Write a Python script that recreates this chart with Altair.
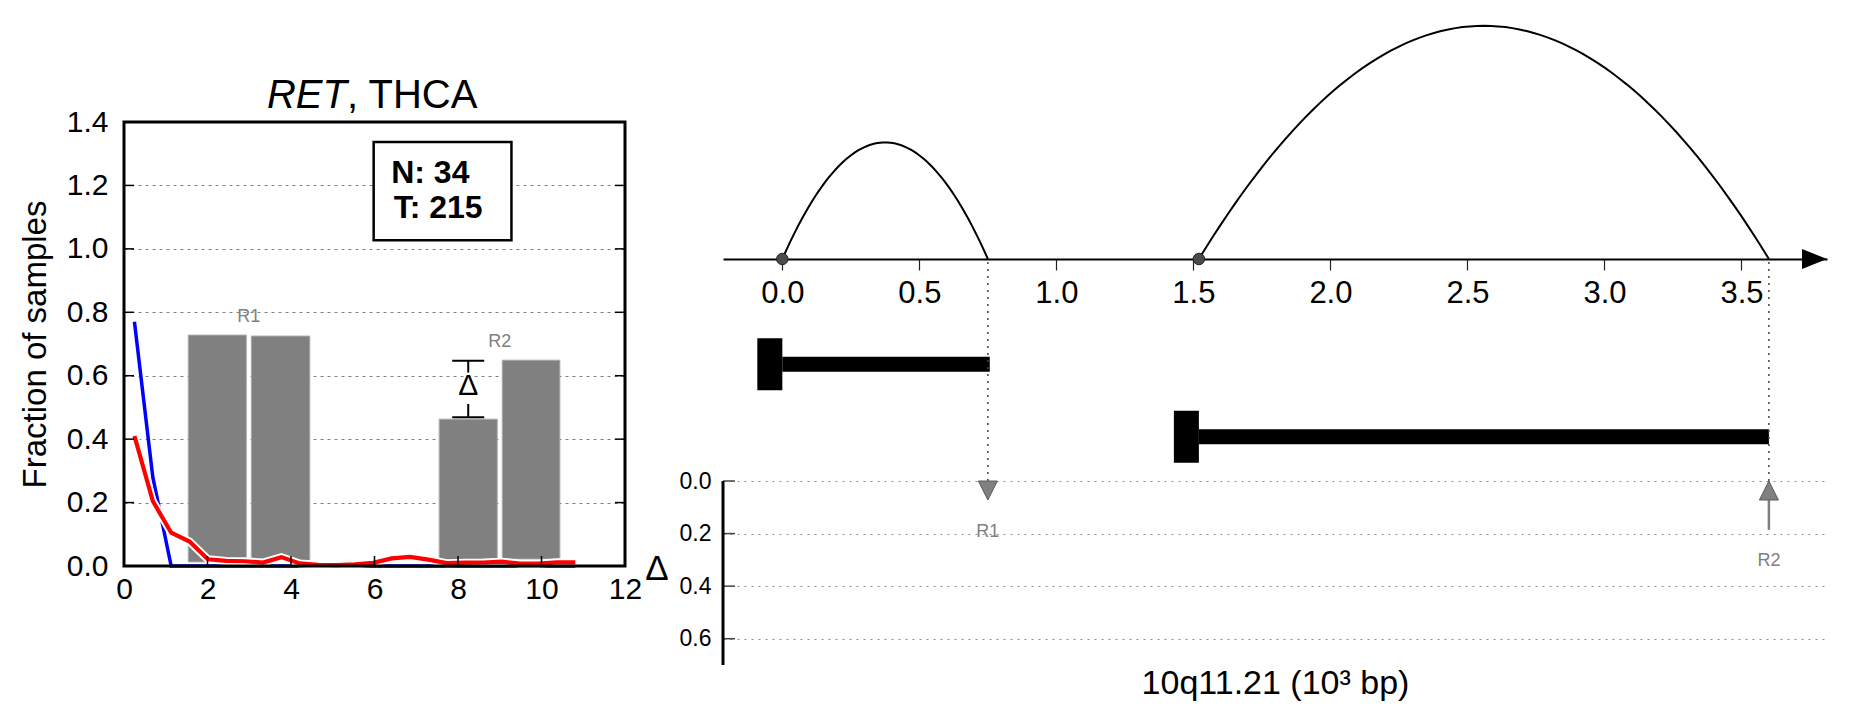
import altair as alt
import numpy as np
import pandas as pd

FONT = "Liberation Sans"

# ---------------- left panel: fraction of samples ----------------
BIN_X = [0.25, 0.69, 1.13, 1.57, 2.01, 2.45, 2.89, 3.33, 3.77, 4.21, 4.65, 5.09,
         5.53, 5.97, 6.41, 6.85, 7.29, 7.73, 8.17, 8.61, 9.05, 9.49, 9.93, 10.37, 10.81]
NORMAL_FRACTION = [0.77, 0.28, 0.0, 0.0, 0.0, 0.0, 0.0, 0.0, 0.0, 0.0, 0.0, 0.0,
                   0.0, 0.0, 0.0, 0.0, 0.0, 0.0, 0.0, 0.0, 0.0, 0.0, 0.0, 0.0, 0.0]
TUMOR_FRACTION = [0.41, 0.205, 0.105, 0.077, 0.021, 0.016, 0.015, 0.011, 0.028, 0.008,
                  0.004, 0.003, 0.005, 0.010, 0.024, 0.029, 0.020, 0.009, 0.0105, 0.011,
                  0.0136, 0.0074, 0.0074, 0.0115, 0.0115]
BAR_X0 = [1.54, 3.05, 7.55, 9.06]
BAR_X1 = [2.93, 4.45, 8.94, 10.44]
BAR_TOP = [0.728, 0.725, 0.463, 0.649]
BAR_BOTTOM = [0.013, 0.017, 0.018, 0.022]
REGIONS = ["R1", "R2"]
N_NORMAL, N_TUMOR = 34, 215
LEFT_X_TICKS = [0, 2, 4, 6, 8, 10, 12]
LEFT_Y_TICKS = [0.0, 0.2, 0.4, 0.6, 0.8, 1.0, 1.2, 1.4]
GENE_LABEL, COHORT_LABEL = "RET", ", THCA"

# ---------------- right panel: locus ----------------
POS_TICKS = [0.0, 0.5, 1.0, 1.5, 2.0, 2.5, 3.0, 3.5]
ARC_START = [0.0, 1.52]
ARC_END = [0.75, 3.6]
ARC_HEIGHT = [0.5, 1.0]
FEATURE_ID = ["f1", "f2"]
FEATURE_START = [0.0, 1.52]
FEATURE_END = [0.757, 3.6]
REGION_POS = [0.75, 3.6]
DELTA_TICKS = [0.0, 0.2, 0.4, 0.6]
DELTA_AXIS_END = 0.7
LOCUS_TITLE = "10q11.21 (10³ bp)"

# ================= left chart =================
W_L, H_L, TOP_L = 501, 547, 103
PXX = W_L / (LEFT_X_TICKS[-1] - LEFT_X_TICKS[0])
PXY = (H_L - TOP_L) / (LEFT_Y_TICKS[-1] - LEFT_Y_TICKS[0])
XL = alt.Scale(domain=[LEFT_X_TICKS[0], LEFT_X_TICKS[-1]], nice=False, zero=False)
YL = alt.Scale(domain=[LEFT_Y_TICKS[0], LEFT_Y_TICKS[-1]], range=[H_L, TOP_L], nice=False, zero=False)
AX_XL = alt.Axis(values=LEFT_X_TICKS, ticks=False, domain=False, grid=False, labelFontSize=30,
                 labelPadding=8, labelColor="black", labelFlush=False, labelOverlap=False)
AX_YL = alt.Axis(values=LEFT_Y_TICKS, format=".1f", ticks=False, domain=False, grid=True,
                 gridDash=[3, 4], gridColor="#808080", gridWidth=1, labelFontSize=30,
                 labelPadding=16, labelColor="black", labelOverlap=False, titleFontSize=33,
                 titleFontWeight="normal", titleColor="black", titlePadding=14)


def xl(f):
    return alt.X(f, type="quantitative", scale=XL, axis=AX_XL, title=None)


def yl(f):
    return alt.Y(f, type="quantitative", scale=YL, axis=AX_YL, title="Fraction of samples")


bars_df = pd.DataFrame({"x0": BAR_X0, "x1": BAR_X1, "top": BAR_TOP, "bottom": BAR_BOTTOM})
normal_df = pd.DataFrame({"x": BIN_X, "frac": NORMAL_FRACTION})
tumor_df = pd.DataFrame({"x": BIN_X, "frac": TUMOR_FRACTION})

bars = alt.Chart(bars_df).mark_rect(fill="#808080", stroke="#a8a8a8", strokeWidth=1).encode(
    x=xl("x0"), x2="x1:Q", y=yl("top"), y2="bottom:Q")
blue = alt.Chart(normal_df).mark_line(color="#0000ff", strokeWidth=3.5).encode(x=xl("x"), y=yl("frac"))
red_halo = alt.Chart(tumor_df).mark_line(color="white", strokeWidth=8).encode(x=xl("x"), y=yl("frac"))
red = alt.Chart(tumor_df).mark_line(color="#ff0000", strokeWidth=4.2).encode(x=xl("x"), y=yl("frac"))

# delta annotation between the two R2 bars
cx = (BAR_X0[2] + BAR_X1[2]) / 2
lo, hi = BAR_TOP[2] + 0.006, BAR_TOP[3] - 0.002
mid = (lo + hi) / 2
caps_df = pd.DataFrame({"x": [cx, cx], "y": [lo, hi]})
stems_df = pd.DataFrame({"x": [cx, cx], "y": [hi, mid - 0.047], "y2": [mid + 0.052, lo]})
caps = alt.Chart(caps_df).mark_tick(orient="horizontal", size=32, thickness=2, color="black",
                                    opacity=1).encode(x=xl("x"), y=yl("y"))
stems = alt.Chart(stems_df).mark_rule(color="black", strokeWidth=2).encode(x=xl("x"), y=yl("y"), y2="y2:Q")
delta_txt = alt.Chart(pd.DataFrame({"x": [cx], "y": [mid - 0.019], "t": ["Δ"]})).mark_text(
    fontSize=30, baseline="alphabetic", align="center", color="black").encode(x=xl("x"), y=yl("y"), text="t:N")

rl_df = pd.DataFrame({
    "x": [(BAR_X1[0] + BAR_X0[1]) / 2, (BAR_X1[2] + BAR_X0[3]) / 2],
    "y": [max(BAR_TOP[0:2]) + 0.058, max(BAR_TOP[2:4]) + 0.058],
    "t": REGIONS})
rlabels = alt.Chart(rl_df).mark_text(fontSize=18, color="#808080", baseline="middle").encode(
    x=xl("x"), y=yl("y"), text="t:N")

box = alt.Chart(pd.DataFrame({"x0": [5.98], "x1": [9.28], "y0": [1.027], "y1": [1.337]})).mark_rect(
    fill="white", stroke="black", strokeWidth=2.5).encode(x=xl("x0"), x2="x1:Q", y=yl("y0"), y2="y1:Q")
box_txt = alt.Chart(pd.DataFrame({"x": [6.40, 6.46], "y": [1.209, 1.098],
                                  "t": [f"N: {N_NORMAL}", f"T: {N_TUMOR}"]})).mark_text(
    fontSize=32, fontWeight="bold", align="left", baseline="alphabetic", color="black").encode(
    x=xl("x"), y=yl("y"), text="t:N")

frame = alt.Chart(pd.DataFrame({"x0": [LEFT_X_TICKS[0]], "x1": [LEFT_X_TICKS[-1]],
                                "y0": [LEFT_Y_TICKS[0]], "y1": [LEFT_Y_TICKS[-1]]})).mark_rect(
    fillOpacity=0, stroke="black", strokeWidth=3).encode(x=xl("x0"), x2="x1:Q", y=yl("y0"), y2="y1:Q")

TL = 10  # inward tick length in px
ytk = LEFT_Y_TICKS[1:-1]
yticks_df = pd.DataFrame({
    "x0": [LEFT_X_TICKS[0]] * len(ytk) + [LEFT_X_TICKS[-1] - TL / PXX] * len(ytk),
    "x1": [LEFT_X_TICKS[0] + TL / PXX] * len(ytk) + [LEFT_X_TICKS[-1]] * len(ytk),
    "y": ytk + ytk})
yticks = alt.Chart(yticks_df).mark_rule(color="black", strokeWidth=1.5).encode(
    x=xl("x0"), x2="x1:Q", y=yl("y"))
xtk = LEFT_X_TICKS[1:-1]
xticks_df = pd.DataFrame({"x": xtk, "y0": [0.0] * len(xtk), "y1": [TL / PXY] * len(xtk)})
xticks = alt.Chart(xticks_df).mark_rule(color="black", strokeWidth=1.5).encode(
    x=xl("x"), y=yl("y0"), y2="y1:Q")

title_y = LEFT_Y_TICKS[-1] + 0.045
t1 = alt.Chart(pd.DataFrame({"x": [5.34], "y": [title_y], "t": [GENE_LABEL]})).mark_text(
    fontSize=40, fontStyle="italic", align="right", baseline="alphabetic", color="black").encode(
    x=xl("x"), y=yl("y"), text="t:N")
t2 = alt.Chart(pd.DataFrame({"x": [5.34], "y": [title_y], "t": [COHORT_LABEL]})).mark_text(
    fontSize=40, align="left", baseline="alphabetic", color="black").encode(
    x=xl("x"), y=yl("y"), text="t:N")

left = alt.layer(bars, blue, red_halo, red, caps, stems, delta_txt, rlabels, box, box_txt,
                 frame, yticks, xticks, t1, t2).properties(width=W_L, height=H_L)

# ================= right chart =================
W_R, H_R = 1104, 646
X_MIN, X_MAX = -0.2165, 3.812
AXIS_PX = 240
XR = alt.Scale(domain=[X_MIN, X_MAX], nice=False, zero=False)
AX_XR = alt.Axis(values=POS_TICKS, format=".1f", orient="bottom", offset=AXIS_PX - H_R,
                 tickSize=11, tickColor="#222222", tickWidth=1.2, domainColor="black", domainWidth=2,
                 labelFontSize=31, labelPadding=8, labelColor="black", labelFlush=False,
                 labelOverlap=False, grid=False, titleFontSize=34, titleFontWeight="normal",
                 titleColor="black", titleY=424, titleBaseline="middle")
ARC_Y = alt.Scale(domain=[0, 1], range=[AXIS_PX, 6.8], nice=False, zero=False)
GENE_Y = alt.Scale(type="point", domain=FEATURE_ID, range=[345.3, 417.8], padding=0)
DY = alt.Scale(domain=[0, DELTA_AXIS_END], range=[462, 646], nice=False, zero=False)
AX_D = alt.Axis(orient="left", values=DELTA_TICKS, format=".1f", ticks=False, domain=False,
                grid=True, gridDash=[2, 5], gridColor="#8c8c8c", gridWidth=1, labelFontSize=23,
                labelPadding=12, labelColor="black", labelOverlap=False, titleAngle=0,
                titleFontSize=35, titleFontWeight="normal", titleColor="black", titleX=-66.5,
                titleY=549.5, titleAlign="center", titleBaseline="middle")


def xr(f):
    return alt.X(f, type="quantitative", scale=XR, axis=AX_XR, title=LOCUS_TITLE)


def dy(f):
    return alt.Y(f, type="quantitative", scale=DY, axis=AX_D, title="Δ")


arc_rows = []
for i, (s, e, h) in enumerate(zip(ARC_START, ARC_END, ARC_HEIGHT)):
    for t in np.linspace(0, 1, 81):
        arc_rows.append({"arc": i, "x": s + (e - s) * t, "h": 4 * h * t * (1 - t)})
arc_df = pd.DataFrame(arc_rows)
arcs = alt.Chart(arc_df).mark_line(color="black", strokeWidth=2).encode(
    x=xr("x"), y=alt.Y("h:Q", scale=ARC_Y, axis=None), detail="arc:N")
dots = alt.Chart(pd.DataFrame({"x": ARC_START, "h": [0.0] * len(ARC_START)})).mark_circle(
    size=133, color="#4a4a4a", opacity=1, stroke="#222222", strokeWidth=1).encode(
    x=xr("x"), y=alt.Y("h:Q", scale=ARC_Y, axis=None))
arrow = alt.Chart(pd.DataFrame({"x": [X_MAX], "h": [0.0]})).mark_point(
    shape="M-2,-0.8L0,0L-2,0.8Z", size=625, filled=True, color="black", opacity=1).encode(
    x=xr("x"), y=alt.Y("h:Q", scale=ARC_Y, axis=None))
arcs_layer = alt.layer(arcs, dots, arrow)

gene_df = pd.DataFrame({"feature": FEATURE_ID, "start": FEATURE_START, "end": FEATURE_END})
gbars = alt.Chart(gene_df).mark_rule(strokeWidth=15, color="black", strokeCap="butt").encode(
    x=xr("start"), x2="end:Q", y=alt.Y("feature:N", scale=GENE_Y, axis=None))
gcaps = alt.Chart(gene_df).mark_tick(orient="vertical", size=52, thickness=25, xOffset=-12.5,
                                     color="black", opacity=1).encode(
    x=xr("start"), y=alt.Y("feature:N", scale=GENE_Y, axis=None))
genes_layer = alt.layer(gbars, gcaps)

HEAD = 19 / 262.0
deltas = [BAR_TOP[1] - BAR_TOP[0], BAR_TOP[3] - BAR_TOP[2]]
reg_df = pd.DataFrame({
    "name": REGIONS, "pos": REGION_POS, "delta": deltas,
    "absd": [abs(d) for d in deltas],
    "dir": ["up" if d > 0 else "down" for d in deltas],
    "zero": [0.0, 0.0], "head": [HEAD, HEAD],
    "label_d": [max(abs(d), HEAD) + 0.12 for d in deltas]})
dt_df = pd.DataFrame({"d": DELTA_TICKS})
dticks = alt.Chart(dt_df).mark_rule(color="#444444", strokeWidth=1.5).encode(
    x=alt.value(0), x2=alt.value(12), y=dy("d"))
dline = alt.Chart(pd.DataFrame({"d0": [DELTA_TICKS[0]], "d1": [DELTA_AXIS_END]})).mark_rule(
    color="black", strokeWidth=3).encode(x=alt.value(0), y=dy("d0"), y2="d1:Q")
vdots = alt.Chart(reg_df).mark_rule(strokeDash=[2, 5], color="#444444", strokeWidth=1.5).encode(
    x=xr("pos"), y=dy("zero"), y2=alt.value(AXIS_PX + 1))
shafts = alt.Chart(reg_df[reg_df["absd"] > HEAD]).mark_rule(color="#808080", strokeWidth=2.5).encode(
    x=xr("pos"), y=dy("head"), y2="absd:Q")
markers = alt.Chart(reg_df).mark_point(filled=True, size=361, opacity=1, fill="#808080",
                                       stroke="#5a5a5a", strokeWidth=1).encode(
    x=xr("pos"), y=dy("zero"),
    shape=alt.Shape("dir:N", scale=alt.Scale(domain=["down", "up"],
                                             range=["M-1,0L1,0L0,2Z", "M0,0L1,2L-1,2Z"]), legend=None))
rlab = alt.Chart(reg_df).mark_text(fontSize=18, color="#808080", baseline="middle").encode(
    x=xr("pos"), y=dy("label_d"), text="name:N")
delta_layer = alt.layer(dticks, dline, vdots, shafts, markers, rlab)

right = alt.layer(arcs_layer, genes_layer, delta_layer).resolve_scale(y="independent").properties(
    width=W_R, height=H_R)

chart = alt.hconcat(left, right, spacing=1).configure(font=FONT).configure_view(
    stroke="transparent").properties(padding={"left": 10, "top": 10, "right": 0, "bottom": 0})

chart.save("out.html", embed_options={"renderer": "svg", "actions": False})
